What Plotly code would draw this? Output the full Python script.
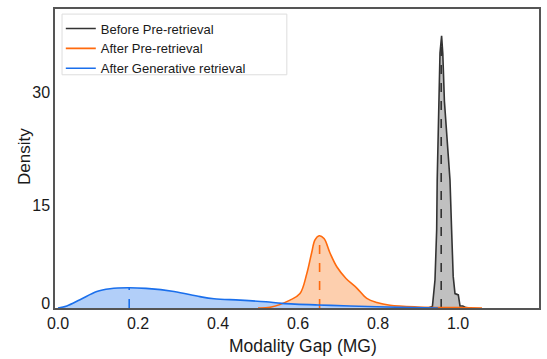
import numpy as np
import plotly.graph_objects as go

# densidade estimada para cada distribuição
gen_x = [0.0, 0.022, 0.055, 0.097, 0.13, 0.175, 0.22, 0.29, 0.355, 0.39, 0.455, 0.52, 0.56, 0.65, 0.73, 0.855, 0.95]
gen_y = [0.0, 0.3, 1.2, 2.4, 2.8, 2.95, 2.85, 2.4, 1.65, 1.35, 1.15, 0.9, 0.68, 0.44, 0.3, 0.1, 0.0]

pre_x = [0.50, 0.53, 0.58, 0.605, 0.622, 0.634, 0.6425, 0.653, 0.665, 0.68, 0.697, 0.72, 0.747, 0.772, 0.797, 0.83, 0.9, 1.0, 1.06]
pre_y = [0.0, 0.1, 1.15, 2.1, 5.0, 8.0, 9.9, 10.5, 10.1, 8.0, 6.0, 4.3, 2.9, 1.4, 0.8, 0.4, 0.15, 0.05, 0.0]

bef_x = [0.925, 0.936, 0.9425, 0.9467, 0.948, 0.9525, 0.955, 0.959, 0.962, 0.966, 0.973, 0.98, 0.984, 0.988, 0.9925, 1.0008, 1.005, 1.012, 1.02, 1.03]
bef_y = [0.0, 0.2, 4.1, 11.4, 18.6, 30.1, 37.1, 39.6, 37.0, 30.1, 24.0, 18.6, 11.4, 4.6, 2.1, 1.9, 0.3, 0.3, 0.05, 0.0]

# medianas (linhas tracejadas)
medianas = {'bef': 0.958, 'pre': 0.654, 'gen': 0.178}

nomes = ['Before Pre-retrieval', 'After Pre-retrieval', 'After Generative retrieval']
cores_linha = ['#333333', '#ff6a0d', '#1a6fec']
cores_fill = ['#c0c0c0', '#fdcfae', '#b2cff9']
formas = ['linear', 'spline', 'spline']

x_ticks = [0.0, 0.2, 0.4, 0.6, 0.8, 1.0]
y_tickvals = [0.6, 15, 31.4]
y_ticktext = ['0', '15', '30']

dados = [(bef_x, bef_y, medianas['bef']), (pre_x, pre_y, medianas['pre']), (gen_x, gen_y, medianas['gen'])]

fig = go.Figure()

# áreas preenchidas
for (xs, ys, _), cf, fs in zip(dados, cores_fill, formas):
    fig.add_trace(go.Scatter(x=xs, y=ys, mode='lines', fill='tozeroy', fillcolor=cf,
                             line=dict(width=0, shape=fs), showlegend=False, hoverinfo='skip'))

# contornos + medianas
for (xs, ys, med), nome, cl, fs in zip(dados, nomes, cores_linha, formas):
    fig.add_trace(go.Scatter(x=xs, y=ys, mode='lines', name=nome,
                             line=dict(color=cl, width=1.6, shape=fs)))
    h = float(np.interp(med, xs, ys))
    fig.add_trace(go.Scatter(x=[med, med], y=[0, h], mode='lines', showlegend=False,
                             line=dict(color=cl, width=1.6, dash='dash')))

fonte = 'Liberation Sans, Arial, sans-serif'
fig.update_layout(
    width=547, height=359,
    margin=dict(l=55, r=8, t=9, b=51, autoexpand=False),
    plot_bgcolor='white', paper_bgcolor='white',
    font=dict(family=fonte, color='#1a1a1a'),
    legend=dict(x=0.012, y=0.985, xanchor='left', yanchor='top',
                bgcolor='rgba(255,255,255,0)', borderwidth=0,
                font=dict(size=13), tracegroupgap=0, itemwidth=30),
    shapes=[
        dict(type='rect', xref='paper', yref='paper',
             x0=0.0145, x1=0.479, y0=0.78, y1=0.983,
             line=dict(color='#dddddd', width=1), fillcolor='rgba(0,0,0,0)', layer='above'),
    ],
    annotations=[
        dict(text='Modality Gap (MG)', xref='paper', yref='paper', x=0.512, y=-0.127,
             xanchor='center', yanchor='middle', showarrow=False, font=dict(size=17.5)),
        dict(text='Density', xref='paper', yref='paper', x=-0.064, y=0.505, textangle=-90,
             xanchor='center', yanchor='middle', showarrow=False, font=dict(size=17)),
    ],
)
fig.update_xaxes(range=[-0.0075, 1.2025], tickvals=x_ticks, tickformat='.1f',
                 showgrid=False, zeroline=False, ticks='', automargin=False,
                 showline=True, mirror=True, linecolor='#555555', linewidth=1.5,
                 tickfont=dict(size=16))
fig.update_yaxes(range=[0, 43.5], tickvals=y_tickvals, ticktext=y_ticktext,
                 showgrid=False, zeroline=False, ticks='', automargin=False,
                 showline=True, mirror=True, linecolor='#555555', linewidth=1.5,
                 tickfont=dict(size=16))

# tira a margem padrão de 8px do body da página
fig.write_html("out.html", config={'displayModeBar': False},
               post_script="document.body.style.margin='0';")
